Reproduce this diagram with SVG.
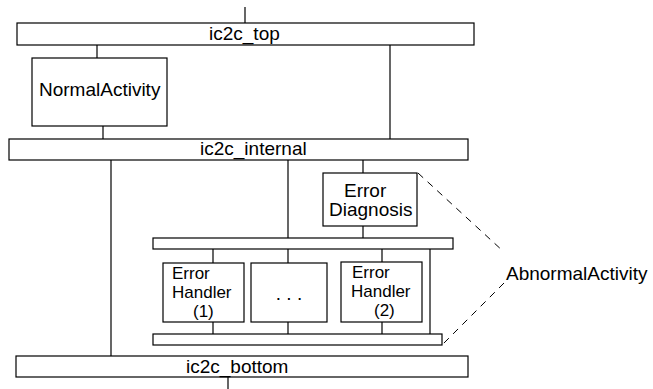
<svg xmlns="http://www.w3.org/2000/svg" width="653" height="389" viewBox="0 0 653 389">
  <style>
    .box { fill: #fff; stroke: #000; stroke-width: 1.2; }
    .bar { fill: #fff; stroke: #000; stroke-width: 1.2; }
    .wire { stroke: #000; stroke-width: 1.2; fill: none; }
    .dash { stroke: #000; stroke-width: 1; fill: none; stroke-dasharray: 7 6; }
    text { font-family: "Liberation Sans", Arial, sans-serif; font-size: 19px; fill: #000; }
    .tight { font-size: 17px; }
  </style>
  <rect width="653" height="389" fill="#fff"/>

  <!-- connectors -->
  <g id="connectors">
    <line class="wire" x1="245" y1="7" x2="245" y2="23"/>
    <line class="wire" x1="97" y1="45" x2="97" y2="58"/>
    <line class="wire" x1="103" y1="126" x2="103" y2="139"/>
    <line class="wire" x1="390" y1="45" x2="390" y2="139"/>
    <line class="wire" x1="111" y1="160" x2="111" y2="356"/>
    <line class="wire" x1="288" y1="160" x2="288" y2="263"/>
    <line class="wire" x1="363" y1="160" x2="363" y2="173"/>
    <line class="wire" x1="363" y1="226" x2="363" y2="238"/>
    <line class="wire" x1="213" y1="249" x2="213" y2="263"/>
    <line class="wire" x1="382" y1="249" x2="382" y2="262"/>
    <line class="wire" x1="213" y1="322" x2="213" y2="334"/>
    <line class="wire" x1="288" y1="322" x2="288" y2="334"/>
    <line class="wire" x1="382" y1="322" x2="382" y2="334"/>
    <line class="wire" x1="430" y1="249" x2="430" y2="334"/>
    <line class="wire" x1="228" y1="377" x2="228" y2="389"/>
    <line class="dash" x1="418" y1="173" x2="504" y2="252"/>
    <line class="dash" x1="504" y1="283" x2="442" y2="345"/>
  </g>

  <g id="ic2c_top">
    <rect class="bar" x="17" y="23" width="457" height="22"/>
    <text x="209" y="40">ic2c_top</text>
  </g>

  <g id="NormalActivity">
    <rect class="box" x="32" y="58" width="135" height="68"/>
    <text x="39" y="96">NormalActivity</text>
  </g>

  <g id="ic2c_internal">
    <rect class="bar" x="9" y="139" width="459" height="21"/>
    <text x="200" y="155">ic2c_internal</text>
  </g>

  <g id="ErrorDiagnosis">
    <rect class="box" x="323" y="173" width="94" height="53"/>
    <text x="344" y="197">Error</text>
    <text x="329" y="216">Diagnosis</text>
  </g>

  <g id="handler_bus_top">
    <rect class="bar" x="153" y="238" width="300" height="11"/>
  </g>

  <g id="ErrorHandler1">
    <rect class="box" x="163" y="263" width="81" height="59"/>
    <text class="tight" x="172" y="279">Error</text>
    <text class="tight" x="172" y="298">Handler</text>
    <text class="tight" x="193" y="317">(1)</text>
  </g>

  <g id="ErrorHandlerMore">
    <rect class="box" x="251" y="263" width="76" height="59"/>
    <text x="289" y="300" text-anchor="middle">. . .</text>
  </g>

  <g id="ErrorHandler2">
    <rect class="box" x="341" y="262" width="81" height="60"/>
    <text class="tight" x="352" y="278">Error</text>
    <text class="tight" x="351" y="297">Handler</text>
    <text class="tight" x="374" y="316">(2)</text>
  </g>

  <g id="handler_bus_bottom">
    <rect class="bar" x="153" y="334" width="289" height="11"/>
  </g>

  <g id="ic2c_bottom">
    <rect class="bar" x="16" y="356" width="452" height="21"/>
    <text x="186" y="373">ic2c_bottom</text>
  </g>

  <g id="AbnormalActivity">
    <text x="506" y="280">AbnormalActivity</text>
  </g>
</svg>
